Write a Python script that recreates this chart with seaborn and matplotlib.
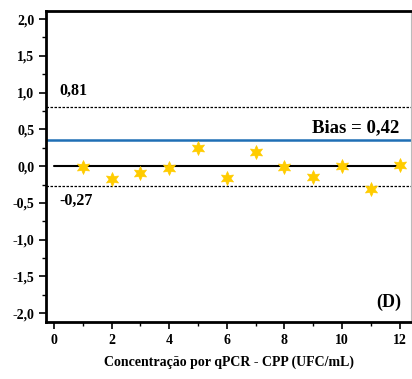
import matplotlib
matplotlib.use("Agg")
import matplotlib.pyplot as plt
import seaborn as sns
import pandas as pd

x_vals = [1, 2, 3, 4, 5, 6, 7, 8, 9, 10, 11, 12]
diff_vals = [-0.01, -0.18, -0.10, -0.02, 0.25, -0.16, 0.19, -0.01, -0.15, 0.00, -0.31, 0.01]
bias_line = 0.36
upper_loa = 0.81
lower_loa = -0.27
y_ticks = [-2.0, -1.5, -1.0, -0.5, 0.0, 0.5, 1.0, 1.5, 2.0]
y_tick_labels = ["-2,0", "-1,5", "-1,0", "-0,5", "0,0", "0,5", "1,0", "1,5", "2,0"]
x_ticks = [0, 2, 4, 6, 8, 10, 12]

sns.set_style("white")
plt.rcParams['font.family'] = ['Liberation Serif', 'DejaVu Serif']
plt.rcParams['font.weight'] = 'bold'
plt.rcParams['text.color'] = 'black'
plt.rcParams['axes.labelcolor'] = 'black'
plt.rcParams['xtick.color'] = 'black'
plt.rcParams['ytick.color'] = 'black'

df = pd.DataFrame({"x": x_vals, "d": diff_vals})

fig = plt.figure(figsize=(4.12, 3.79), dpi=100)
ax = fig.add_axes([0.1117, 0.1504, 0.886, 0.8206])

ax.axhline(upper_loa, color="black", lw=0.9, ls=(0, (2, 1.2)))
ax.axhline(lower_loa, color="black", lw=0.9, ls=(0, (2, 1.2)))
ax.axhline(bias_line, color="#1f6fb5", lw=1.8)
ax.plot([0, 12], [0, 0], color="black", lw=1.5, zorder=2)

sns.scatterplot(data=df, x="x", y="d", ax=ax, marker=(6, 1, 0), s=100,
                color="#FFCC00", edgecolor="#FFCC00", linewidth=0.5, zorder=3)

ax.set_xlim(-0.28, 12.4)
ax.set_ylim(-2.12, 2.11)
ax.set_yticks(y_ticks)
ax.set_yticklabels(y_tick_labels)
ax.set_yticks([-1.75, -1.25, -0.75, -0.25, 0.25, 0.75, 1.25, 1.75], minor=True)
ax.set_xticks(x_ticks)
ax.set_xticks([1, 3, 5, 7, 9, 11], minor=True)

ax.tick_params(axis="both", which="major", direction="out", length=5, width=1.2,
               labelsize=10, colors="black", left=True, bottom=True)
ax.tick_params(axis="both", which="minor", direction="out", length=3, width=1.0,
               colors="black", left=True, bottom=True)
for lab in ax.get_xticklabels() + ax.get_yticklabels():
    lab.set_fontweight("bold")
    lab.set_color("black")

for side in ["left", "bottom", "top"]:
    ax.spines[side].set_color("black")
    ax.spines[side].set_linewidth(2.0)
ax.spines["right"].set_color("#bbbbbb")
ax.spines["right"].set_linewidth(0.8)

ax.set_xlabel("Concentração por qPCR - CPP (UFC/mL)", fontsize=10, fontweight="bold",
              labelpad=6, color="black")
ax.set_ylabel("")

ax.text(0.2, 1.02, "0,81", fontsize=11.5, fontweight="bold", va="center", ha="left", color="black")
ax.text(0.2, -0.47, "-0,27", fontsize=11.5, fontweight="bold", va="center", ha="left", color="black")
ax.text(12.0, 0.52, "Bias = 0,42", fontsize=13.5, fontweight="bold", va="center", ha="right", color="black")
ax.text(12.05, -1.85, "(D)", fontsize=13, fontweight="bold", va="center", ha="right", color="black")

fig.savefig("out.png", dpi=100)
